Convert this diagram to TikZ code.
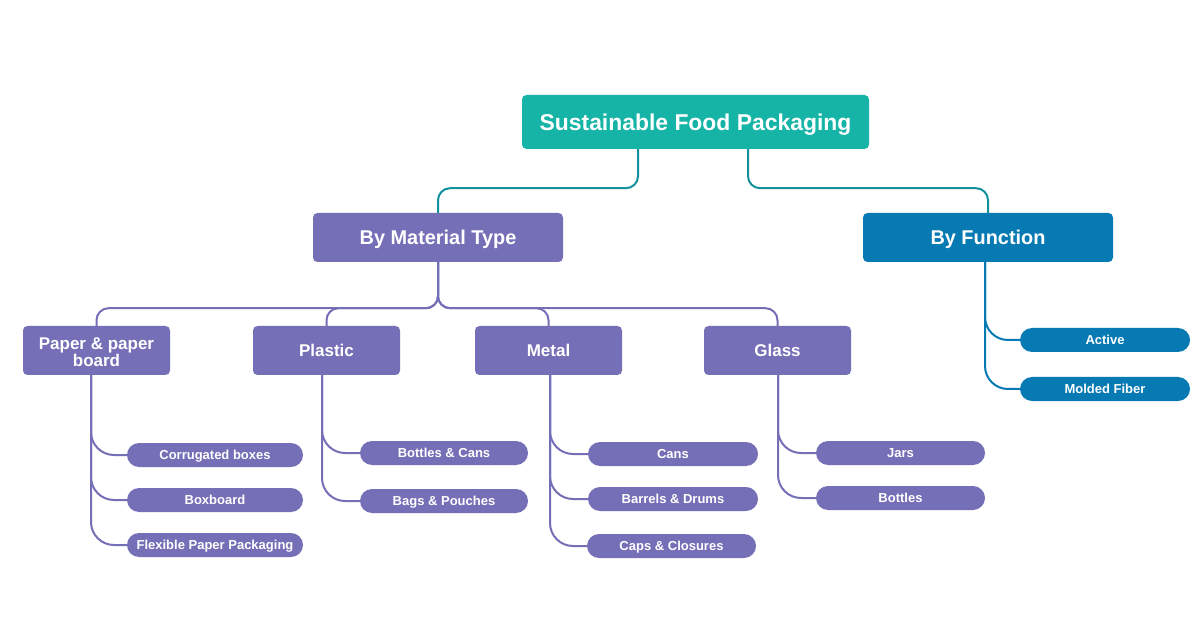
\documentclass[tikz,border=0pt]{standalone}
\usepackage{fontspec}
\setmainfont{Liberation Sans}
\definecolor{teal1}{HTML}{15B4A7}
\definecolor{tealline}{HTML}{12919E}
\definecolor{purp}{HTML}{746FB6}
\definecolor{blu}{HTML}{0779B3}
\begin{document}
\begin{tikzpicture}[x=1pt,y=-1pt,
  base/.style={rectangle, text=white, inner sep=0pt, align=center, font=\bfseries},
  rootbox/.style={base, text height=16.4pt, text depth=0pt, fill=teal1, rounded corners=4.5pt, minimum width=347pt, minimum height=54pt, font=\bfseries\fontsize{22.9}{24}\selectfont},
  lvlbox/.style={base, text height=14.3pt, text depth=0pt, rounded corners=4.5pt, minimum width=250pt, minimum height=49pt, font=\bfseries\fontsize{19.9}{22}\selectfont},
  catbox/.style={base, fill=purp, rounded corners=4.5pt, minimum width=147pt, minimum height=49pt, font=\bfseries\fontsize{17}{15.5}\selectfont},
  catone/.style={catbox, text height=12.2pt, text depth=0pt},
  leafbox/.style={base, text height=9.4pt, text depth=0pt, rounded corners=12pt, minimum width=170pt, minimum height=24pt, font=\bfseries\fontsize{13}{15}\selectfont},
  conn/.style={line width=2pt, rounded corners=12pt},
  leafconn/.style={line width=2pt, rounded corners=23pt},
]
\useasboundingbox (0,0) rectangle (1200,628);
\fill[white] (0,0) rectangle (1200,628);

\node[rootbox] (root) at (695.5,122) {Sustainable Food Packaging};
\node[lvlbox, fill=purp] (mat) at (438,237.5) {By Material Type};
\node[lvlbox, fill=blu] (func) at (988,237.5) {By Function};

\node[catbox] (paper) at (96.5,350.5) {\raisebox{0pt}[\dimexpr\height+4pt\relax][\depth]{\parbox{140pt}{\centering\baselineskip=15.5pt Paper \& paper\\board}}};
\node[catone] (plastic) at (326.5,350.5) {Plastic};
\node[catone] (metal) at (548.5,350.5) {Metal};
\node[catone] (glass) at (777.5,350.5) {Glass};

\node[leafbox, fill=purp, minimum width=176pt] (cb) at (215,455) {Corrugated boxes};
\node[leafbox, fill=purp, minimum width=176pt] (bb) at (215,500) {Boxboard};
\node[leafbox, fill=purp, minimum width=176pt] (fpp) at (215,545) {Flexible Paper Packaging};
\node[leafbox, fill=purp, minimum width=168pt] (bc) at (444,453) {Bottles \& Cans};
\node[leafbox, fill=purp, minimum width=168pt] (bp) at (444,501) {Bags \& Pouches};
\node[leafbox, fill=purp] (cans) at (673,454) {Cans};
\node[leafbox, fill=purp] (brd) at (673,499) {Barrels \& Drums};
\node[leafbox, fill=purp, minimum width=169pt] (caps) at (671.5,546) {Caps \& Closures};
\node[leafbox, fill=purp, minimum width=169pt] (jars) at (900.5,453) {Jars};
\node[leafbox, fill=purp, minimum width=169pt] (bott) at (900.5,498) {Bottles};
\node[leafbox, fill=blu] (active) at (1105,340) {Active};
\node[leafbox, fill=blu] (mf) at (1105,389) {Molded Fiber};

% root connectors
\draw[conn, tealline] ([xshift=-57.5pt]root.south) -- ++(0,39) -| (mat.north);
\draw[conn, tealline] ([xshift=52.5pt]root.south) -- ++(0,39) -| (func.north);

% material to categories
\foreach \c in {paper,plastic,metal,glass}
  \draw[conn, purp] (mat.south) -- ++(0,46) -| (\c.north);

% categories to leaves
\foreach \c/\l/\dx in {paper/cb/-5.5,paper/bb/-5.5,paper/fpp/-5.5,plastic/bc/-4.5,plastic/bp/-4.5,metal/cans/1.5,metal/brd/1.5,metal/caps/1.5,glass/jars/0.5,glass/bott/0.5}
  \draw[leafconn, purp] ([xshift=\dx pt]\c.south) |- (\l.west);
\foreach \l in {active,mf}
  \draw[leafconn, blu] ([xshift=-3pt]func.south) |- (\l.west);
\end{tikzpicture}
\end{document}
